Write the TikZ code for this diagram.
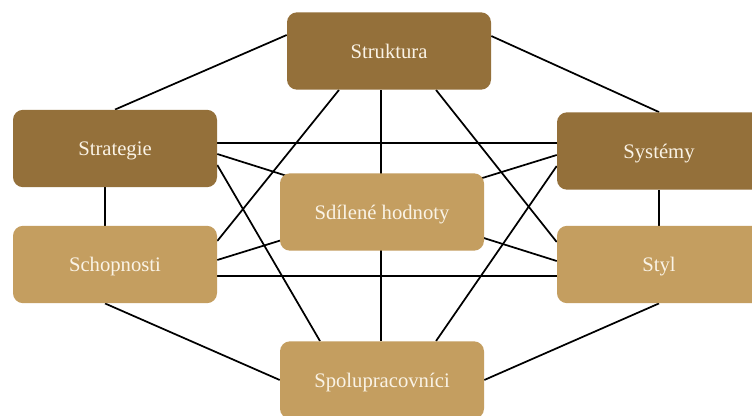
\documentclass[tikz,border=0pt]{standalone}
\usepackage{fontspec}
\setmainfont{Liberation Serif}
\usetikzlibrary{calc,backgrounds}
\definecolor{darkbrown}{HTML}{94703A}
\definecolor{lighttan}{HTML}{C49E60}
\definecolor{cream}{HTML}{FAF3E6}
\begin{document}
\begin{tikzpicture}[x=0.75pt,y=-0.75pt,
  box/.style={rectangle, rounded corners=7.5pt, minimum width=153pt,
    minimum height=58pt, inner sep=0pt, text=cream,
    text height=14pt, text depth=2.8pt,
    font=\fontsize{15.5}{18}\selectfont},
  darkbox/.style={box, fill=darkbrown},
  lightbox/.style={box, fill=lighttan},
  link/.style={draw=black, line width=1.3pt}]
\clip (0,0) rectangle (752,416);

% the seven elements
\node[darkbox]  (struktura) at (389,51)    {Struktura};
\node[darkbox]  (strategie) at (115,148.5) {Strategie};
\node[darkbox]  (systemy)   at (659,151)   {Systémy};
\node[lightbox] (hodnoty)   at (382,212)   {Sdílené hodnoty};
\node[lightbox] (schopnosti) at (115,264.5) {Schopnosti};
\node[lightbox] (styl)      at (659,264.5) {Styl};
\node[lightbox] (spolu)     at (382,380)   {Spolupracovníci};

% white ground and connections, drawn behind the boxes
\begin{scope}[on background layer]
  \fill[white] (0,0) rectangle (752,416);
  % outer ring
  \draw[link] ($(struktura.west)+(0,-16)$) -- (strategie.north);
  \draw[link] ($(struktura.east)+(0,-15)$) -- (systemy.north);
  \draw[link] ($(strategie.south)+(-10,0)$) -- ($(schopnosti.north)+(-10,0)$);
  \draw[link] (systemy.south) -- (styl.north);
  \draw[link] ($(schopnosti.south)+(-10,0)$) -- (spolu.west);
  \draw[link] (styl.south) -- (spolu.east);
  % vertical axis
  \draw[link] ($(spolu.north)+(-1,0)$) coordinate (vaxis) -- (vaxis |- struktura.south);
  % horizontals
  \draw[link] ($(strategie.east)+(0,-5.5)$) coordinate (h1) -- (h1 -| systemy.west);
  \draw[link] ($(schopnosti.east)+(0,11.5)$) coordinate (h2) -- (h2 -| styl.west);
  % diagonals through the centre
  \draw[link] ($(strategie.east)+(0,5.5)$) -- ($(styl.west)+(0,-3.5)$);
  \draw[link] ($(schopnosti.east)+(0,-4.5)$) -- ($(systemy.west)+(0,4)$);
  % long diagonals
  \draw[link] ($(struktura.south)+(-50,0)$) -- ($(schopnosti.east)+(0,-23.5)$);
  \draw[link] ($(strategie.east)+(0,16.5)$) -- ($(spolu.north)+(-62,0)$);
  \draw[link] ($(struktura.south)+(47,0)$) -- ($(styl.west)+(0,-22.5)$);
  \draw[link] ($(systemy.west)+(0,15)$) -- ($(spolu.north)+(54,0)$);
\end{scope}
\end{tikzpicture}
\end{document}
